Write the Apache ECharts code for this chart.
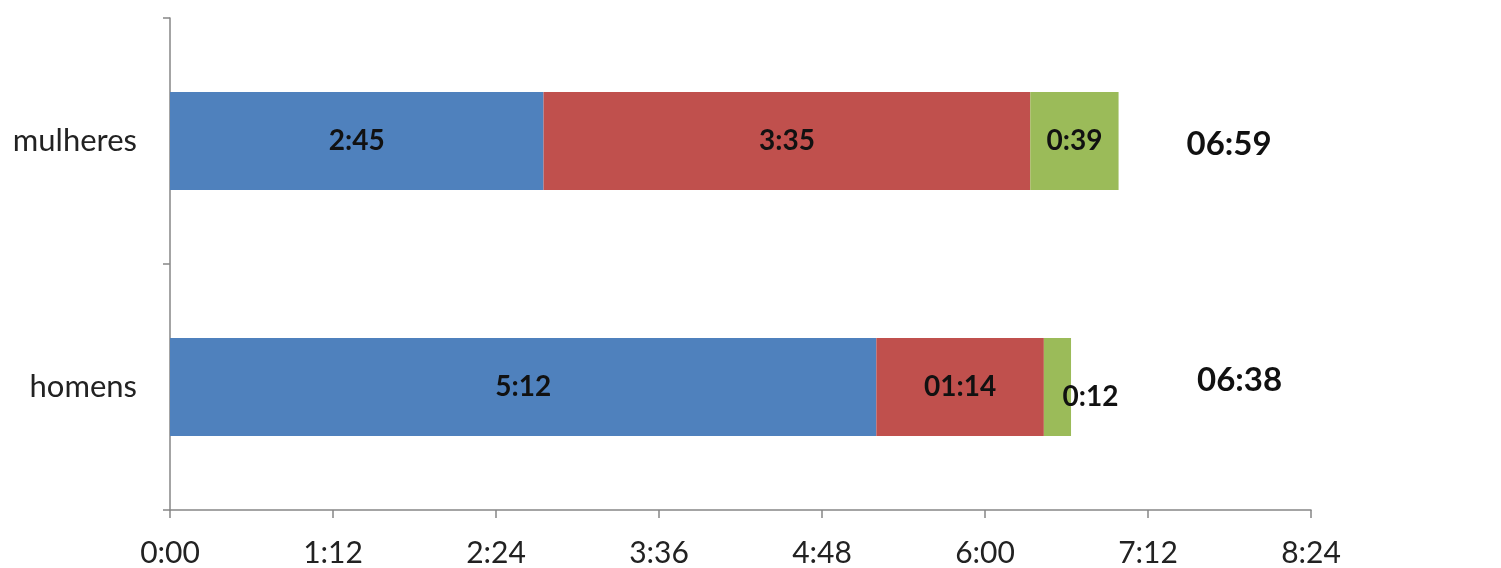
<!DOCTYPE html>
<html>
<head>
<meta charset="utf-8">
<script src="https://cdn.jsdelivr.net/npm/echarts@6/dist/echarts.min.js"></script>
<style>html,body{margin:0;padding:0;background:#fff}#c{width:1501px;height:568px}</style>
</head>
<body>
<div id="c"></div>
<script>
const categories = ['homens', 'mulheres'];
const azul = ['5:12', '2:45'];
const vermelho = ['01:14', '3:35'];
const verde = ['0:12', '0:39'];
const totais = ['06:38', '06:59'];
const xTicks = { min: 0, max: 504, interval: 72 };

function toMin(s) { const p = s.split(':'); return (+p[0]) * 60 + (+p[1]); }
function fmt(m) { return Math.floor(m / 60) + ':' + String(m % 60).padStart(2, '0'); }

const FONT = 'Lato';
const barW = 98;

function stackSeries(name, arr, color, labelExtra) {
  return {
    name, type: 'bar', stack: 't', barWidth: barW,
    itemStyle: { color },
    label: Object.assign({
      show: true, position: 'inside', color: '#111', fontFamily: FONT,
      fontWeight: 'bold', fontSize: 28,
      formatter: p => arr[p.dataIndex]
    }, labelExtra || {}),
    data: arr.map(toMin)
  };
}

const verdeSeries = stackSeries('verde', verde, '#9BBB59');
verdeSeries.data = verde.map((v, i) => i === 0
  ? { value: toMin(v), label: { offset: [33, 10] } }
  : toMin(v));

const totalOffsets = [[126, -7], [68, 3]];

const chart = echarts.init(document.getElementById('c'));
chart.setOption({
  animation: false,
  grid: { left: 170, right: 190, top: 18, bottom: 58 },
  xAxis: {
    type: 'value', min: xTicks.min, max: xTicks.max, interval: xTicks.interval,
    splitLine: { show: false },
    axisLine: { show: true, lineStyle: { color: '#868686', width: 1.5 } },
    axisTick: { show: true, length: 8, lineStyle: { color: '#868686', width: 1.5 } },
    axisLabel: { color: '#222', fontFamily: FONT, fontSize: 30, margin: 28, formatter: v => fmt(v) }
  },
  yAxis: {
    type: 'category', data: categories,
    axisLine: { show: true, lineStyle: { color: '#868686', width: 1.5 } },
    axisTick: { show: true, length: 7, lineStyle: { color: '#868686', width: 1.5 } },
    axisLabel: { color: '#222', fontFamily: FONT, fontSize: 31, margin: 33 }
  },
  series: [
    stackSeries('azul', azul, '#4F81BD'),
    stackSeries('vermelho', vermelho, '#C0504D'),
    verdeSeries,
    {
      name: 'total', type: 'bar', barWidth: barW, barGap: '-100%', z: 1,
      itemStyle: { color: 'rgba(0,0,0,0)' }, silent: true,
      label: { show: true, position: 'right', distance: 0, color: '#111', fontFamily: FONT,
        fontWeight: 'bold', fontSize: 33, formatter: p => totais[p.dataIndex] },
      data: totais.map((t, i) => ({ value: toMin(t), label: { offset: totalOffsets[i] } }))
    }
  ]
});
</script>
</body>
</html>
